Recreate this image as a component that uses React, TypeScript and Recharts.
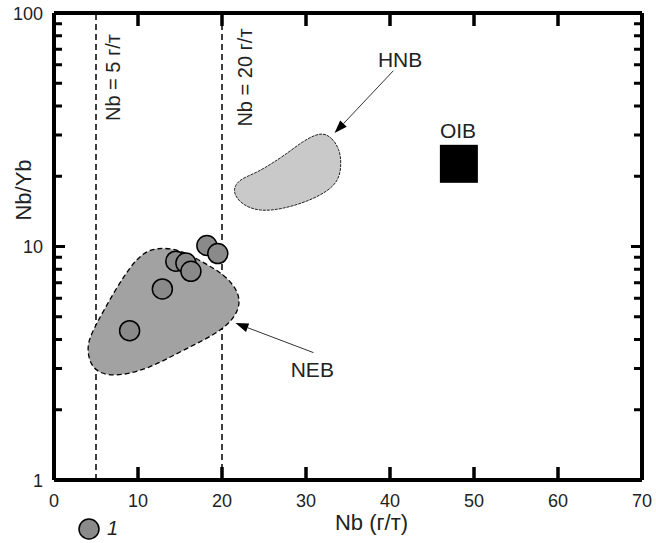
import { ScatterChart, Scatter, XAxis, YAxis, ReferenceLine, Legend } from "recharts";

// samples (group 1)
const sampleNb = [9.0, 12.9, 14.5, 15.7, 16.3, 18.2, 19.5];
const sampleRatio = [4.36, 6.58, 8.65, 8.5, 7.83, 10.1, 9.33];

// NEB field outline
const nebNb = [3.9, 4.5, 7.0, 11.2, 15.2, 20.2, 22.2, 22.0, 20.2, 18.0, 15.0, 12.2, 10.4, 8.4, 6.0, 4.3];
const nebRatio = [3.62, 2.95, 2.75, 2.98, 3.58, 4.36, 5.37, 6.45, 7.62, 8.45, 9.75, 9.9, 9.35, 7.6, 5.4, 4.15];

// HNB field outline
const hnbNb = [31.8, 33.1, 34.0, 34.2, 34.0, 32.7, 30.2, 27.3, 24.5, 22.3, 21.2, 21.9, 24.0, 25.7, 27.6, 29.7];
const hnbRatio = [31.0, 29.3, 26.0, 22.9, 19.5, 17.3, 15.6, 14.5, 14.1, 15.1, 17.2, 19.3, 20.6, 22.4, 24.8, 28.4];

// OIB
const oibNb = [48.2];
const oibRatio = [22.6];

// field labels
const fieldNames = ["HNB", "NEB", "OIB"];
const fieldLabelNb = [41.2, 30.75, 48.1];
const fieldLabelRatio = [63.5, 2.97, 31.3];

// arrows: [from, to]
const hnbArrow = [{ x: 40.4, y: 56.6 }, { x: 33.4, y: 30.6 }];
const nebArrow = [{ x: 30.9, y: 3.51 }, { x: 21.6, y: 4.7 }];

// vertical Nb limits
const limitNb = [5, 20];
const limitLabels = ["Nb = 5 г/т", "Nb = 20 г/т"];
const limitLabelDx = [24, 30];

const xTicks = [0, 10, 20, 30, 40, 50, 60, 70];
const yTicks = [1, 2, 3, 4, 5, 6, 7, 8, 9, 10, 20, 30, 40, 50, 60, 70, 80, 90, 100];
const yLabelled = [1, 10, 100];

const FONT = '"Liberation Sans", Arial, sans-serif';
const TXT = "#222";

const rows = (xs: number[], ys: number[], names?: string[]) =>
  xs.map((x, i) => ({ x, y: ys[i], name: names ? names[i] : "" }));

const samples = rows(sampleNb, sampleRatio);
const neb = rows(nebNb, nebRatio);
const hnb = rows(hnbNb, hnbRatio);
const oib = rows(oibNb, oibRatio);
const fieldLabels = rows(fieldLabelNb, fieldLabelRatio, fieldNames);

const XLabel = (props: any) => (
  <text x={props.x} y={Number(props.y) + 27} textAnchor="middle" fontSize={18} fontFamily={FONT} fill={TXT}>
    {props.payload.value}
  </text>
);

const YLabel = (props: any) =>
  yLabelled.includes(props.payload.value) ? (
    <text x={Number(props.x) - 11} y={Number(props.y) + 6.5} textAnchor="end" fontSize={18} fontFamily={FONT} fill={TXT}>
      {props.payload.value}
    </text>
  ) : (
    <g />
  );

// inward tick marks on bottom and top
const xTickMark = (p: any) => {
  const top = Math.min(p.y1, p.y2);
  const bot = Math.max(p.y1, p.y2);
  return (
    <g>
      <path d={`M${p.x1},${bot}V${bot - 13}M${p.x1},${top}V${top + 13}`} stroke="#000" strokeWidth={3.5} fill="none" />
    </g>
  );
};

// inward tick marks on left and right
const yTickMark = (len: number) => (p: any) => {
  const left = Math.min(p.x1, p.x2);
  const right = Math.max(p.x1, p.x2);
  return (
    <g>
      <path d={`M${left},${p.y1}H${left + len}M${right},${p.y1}H${right - len}`} stroke="#000" strokeWidth={3} fill="none" />
    </g>
  );
};

const arrowShape = (p: any) => {
  const { x1, y1, x2, y2 } = p;
  const a = Math.atan2(y2 - y1, x2 - x1);
  const len = 13;
  const w = 4.5;
  const bx = x2 - len * Math.cos(a);
  const by = y2 - len * Math.sin(a);
  const px = -Math.sin(a) * w;
  const py = Math.cos(a) * w;
  return (
    <g>
      <line x1={x1} y1={y1} x2={bx} y2={by} stroke="#333" strokeWidth={1} />
      <polygon points={`${x2},${y2} ${bx + px},${by + py} ${bx - px},${by - py}`} fill="#000" />
    </g>
  );
};

const none = () => <g />;

export default function App() {
  return (
    <div style={{ position: "absolute", left: 0, top: 0, width: 656, height: 543 }}>
      <ScatterChart width={656} height={543} margin={{ top: 13, right: 14, bottom: 33, left: 0 }}>
        <XAxis
          dataKey="x"
          type="number"
          domain={[0, 70]}
          ticks={xTicks}
          interval={0}
          height={30}
          tickSize={0}
          tickMargin={0}
          tickLine={false}
          axisLine={{ stroke: "#000", strokeWidth: 4 }}
          tick={XLabel}
          label={(p: any) => (
            <text
              x={p.viewBox.x + p.viewBox.width * 0.54}
              y={p.viewBox.y + 50}
              textAnchor="middle"
              fontSize={22}
              fontFamily={FONT}
              fill={TXT}
            >
              Nb (г/т)
            </text>
          )}
        />
        <YAxis
          dataKey="y"
          type="number"
          scale="log"
          domain={[1, 100]}
          ticks={yTicks}
          interval={0}
          width={54}
          tickSize={0}
          tickMargin={0}
          tickLine={false}
          axisLine={{ stroke: "#000", strokeWidth: 4 }}
          tick={YLabel}
          label={(p: any) => (
            <text
              x={31}
              y={p.viewBox.y + 177}
              textAnchor="middle"
              fontSize={22}
              fontFamily={FONT}
              fill={TXT}
              transform={`rotate(-90 31 ${p.viewBox.y + 177})`}
            >
              Nb/Yb
            </text>
          )}
        />

        <Scatter
          name="NEB"
          data={neb}
          legendType="none"
          isAnimationActive={false}
          shape={none}
          line={{ fill: "#a2a2a2", stroke: "#000", strokeWidth: 1.3, strokeDasharray: "5 3" }}
          lineJointType="basisClosed"
        />
        <Scatter
          name="HNB"
          data={hnb}
          legendType="none"
          isAnimationActive={false}
          shape={none}
          line={{ fill: "#c9c9c9", stroke: "#222", strokeWidth: 1, strokeDasharray: "3 1" }}
          lineJointType="basisClosed"
        />

        {limitNb.map((v, i) => (
          <ReferenceLine
            key={`lim-${v}`}
            x={v}
            stroke="#000"
            strokeWidth={1.5}
            strokeDasharray="6 4"
            label={(p: any) => {
              const lx = p.viewBox.x + limitLabelDx[i];
              const ly = p.viewBox.y + 64.5;
              return (
                <text
                  x={lx}
                  y={ly}
                  textAnchor="middle"
                  fontSize={20}
                  fontFamily={FONT}
                  fill={TXT}
                  transform={`rotate(-90 ${lx} ${ly})`}
                >
                  {limitLabels[i]}
                </text>
              );
            }}
          />
        ))}

        {/* top and right sides of the frame */}
        <ReferenceLine x={70} stroke="#000" strokeWidth={4} />
        <ReferenceLine y={100} stroke="#000" strokeWidth={4} />

        {/* inward ticks */}
        {xTicks.map((v) => (
          <ReferenceLine key={`xt-${v}`} x={v} shape={xTickMark} />
        ))}
        {yTicks.map((v) => (
          <ReferenceLine key={`yt-${v}`} y={v} shape={yTickMark(yLabelled.includes(v) ? 11 : 8)} />
        ))}

        <ReferenceLine segment={hnbArrow} shape={arrowShape} ifOverflow="visible" />
        <ReferenceLine segment={nebArrow} shape={arrowShape} ifOverflow="visible" />

        <Scatter
          name="OIB"
          data={oib}
          legendType="none"
          isAnimationActive={false}
          shape={(p: any) => <rect x={p.cx - 19} y={p.cy - 19} width={38} height={38} fill="#000" />}
        />
        <Scatter
          name="labels"
          data={fieldLabels}
          legendType="none"
          isAnimationActive={false}
          shape={(p: any) => (
            <text x={p.cx} y={p.cy + 7.5} textAnchor="middle" fontSize={21} fontFamily={FONT} fill={TXT}>
              {p.payload.name}
            </text>
          )}
        />
        <Scatter
          name="1"
          data={samples}
          legendType="circle"
          fill="#8a8a8a"
          isAnimationActive={false}
          shape={(p: any) => <circle cx={p.cx} cy={p.cy} r={10} fill="#8a8a8a" stroke="#000" strokeWidth={1.5} />}
        />

        <Legend
          layout="horizontal"
          verticalAlign="middle"
          align="center"
          wrapperStyle={{ left: 78, top: 517, width: 80, height: 24 }}
          content={(lp: any) => (
            <div style={{ display: "flex", alignItems: "center" }}>
              {(lp.payload || [])
                .filter((e: any) => e.type !== "none")
                .map((e: any) => (
                  <div key={e.value} style={{ display: "flex", alignItems: "center" }}>
                    <svg width={22} height={22}>
                      <circle cx={11} cy={11} r={10} fill="#8a8a8a" stroke="#000" strokeWidth={1.5} />
                    </svg>
                    <span
                      style={{ marginLeft: 7, fontStyle: "italic", fontSize: 20, fontFamily: FONT, color: TXT }}
                    >
                      {e.value}
                    </span>
                  </div>
                ))}
            </div>
          )}
        />
      </ScatterChart>
    </div>
  );
}
